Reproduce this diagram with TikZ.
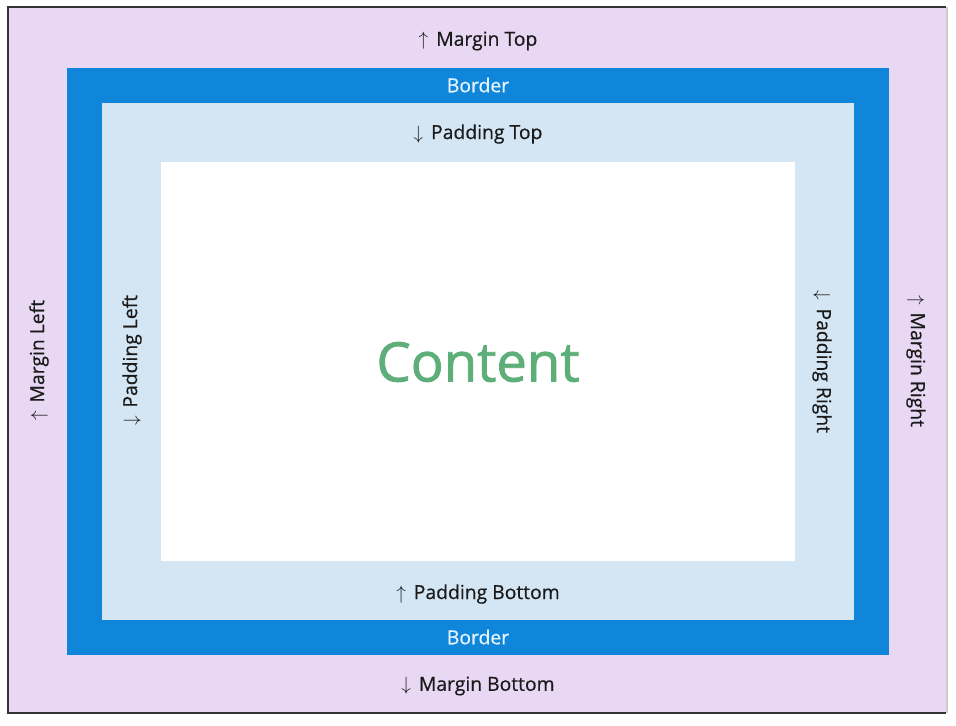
\documentclass[tikz,border=0pt]{standalone}
\usepackage{fontspec}
\setmainfont{Open Sans}
\newfontfamily\semifont{Open Sans}[BoldFont={Open Sans}, BoldFeatures={FakeBold=0.5}]
\newfontfamily\headfont{Open Sans}[BoldFont={Open Sans}, BoldFeatures={FakeBold=1.4}]
\usepackage{tikz}
\definecolor{marginc}{HTML}{E8D8F3}
\definecolor{borderc}{HTML}{1086DB}
\definecolor{paddingc}{HTML}{D4E6F4}
\definecolor{contentc}{HTML}{5DAE78}
\definecolor{labelc}{HTML}{1A1A1A}
\definecolor{bordertextc}{HTML}{E4F5FF}
\tikzstyle{lbl} = [font=\semifont\bfseries\fontsize{11}{13}\selectfont, text=labelc, inner sep=0pt]
\tikzstyle{leftlbl} = [lbl, rotate=90]
\tikzstyle{rightlbl} = [lbl, rotate=-90]
\tikzstyle{bordertext} = [lbl, text=bordertextc]
\newcommand{\arrU}{$\uparrow$\hspace{4.5pt}}
\newcommand{\arrD}{$\downarrow$\hspace{4.5pt}}

\begin{document}
\begin{tikzpicture}[x=0.02cm, y=-0.02cm]
\def\boxMargin{(8,7) rectangle (946,713)}
\def\boxBorder{(67,68) rectangle (889,655)}
\def\boxPadding{(102,103) rectangle (854,620)}
\def\boxContent{(161,162) rectangle (795,561)}
\useasboundingbox[fill=white] (0,0) rectangle (956,725);
\fill[marginc] \boxMargin;
\fill[borderc] \boxBorder;
\fill[paddingc] \boxPadding;
\fill[white] \boxContent;
\draw[black!80, line width=1.2pt] (946,7) -- (8,7) -- (8,713) -- (946,713);
\draw[black!20, line width=1pt] (947,7) -- (947,713);
\node[lbl] (mtop) at (478,41) {\arrU Margin Top};
\node[bordertext] (btop) at (478,85) {Border};
\node[lbl] (ptop) at (478,134) {\arrD Padding Top};
\node[font=\headfont\bfseries\fontsize{31}{36}\selectfont, text=contentc] (content) at (478,362) {Content};
\node[lbl] (pbottom) at (478,594) {\arrU Padding Bottom};
\node[bordertext] (bbottom) at (478,637) {Border};
\node[lbl] (mbottom) at (478,686) {\arrD Margin Bottom};
\node[leftlbl] (mleft) at (39,360) {\arrU Margin Left};
\node[leftlbl] (pleft) at (132,360) {\arrD Padding Left};
\node[rightlbl] (pright) at (822,362) {\arrD Padding Right};
\node[rightlbl] (mright) at (916,361) {\arrU Margin Right};
\end{tikzpicture}
\end{document}
